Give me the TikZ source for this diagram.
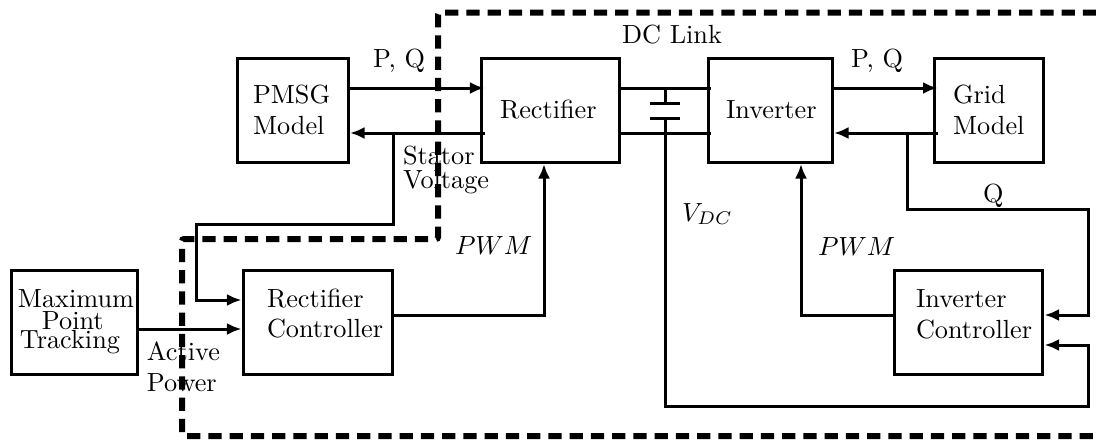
\documentclass[tikz,border=0pt]{standalone}
\usetikzlibrary{arrows.meta}
\tikzset{
  box/.style={draw=black,line width=1.2pt,fill=none,inner sep=0pt,outer sep=0pt,minimum height=41.2pt},
  wire/.style={draw=black,line width=1.2pt,line join=miter},
  arr/.style={wire,-{Latex[length=5.8pt,width=4.8pt]}},
  zone/.style={draw=black,line width=2.4pt,dash pattern=on 5.3pt off 3.2pt,rounded corners=0.8pt},
  txt/.style={anchor=base west,inner sep=0pt,outer sep=0pt,text=black,scale=1.05}
}
\begin{document}
\begin{tikzpicture}[x=0.4pt,y=-0.4pt]
\useasboundingbox (0,0) rectangle (1096,440);
% boxes
\node[box,minimum width=44pt]   (pmsg) at (293,110.5) {};
\node[box,minimum width=55.2pt] (rect) at (550,110.5) {};
\node[box,minimum width=49.6pt] (inv)  at (770,110.5) {};
\node[box,minimum width=43.6pt] (grid) at (988.5,110.5) {};
\node[box,minimum width=50pt]   (mpt)  at (74.5,322.5) {};
\node[box,minimum width=59.2pt] (rc)   at (318,322.5) {};
\node[box,minimum width=59.2pt] (ic)   at (968,322.5) {};
% routing levels
\coordinate (yP) at (0,88);
\coordinate (yV) at (0,133);
\coordinate (yC1) at (0,315);
\coordinate (sb1) at (393,224);
\coordinate (sb2) at (196,224);
\coordinate (qb1) at (907,209);
\coordinate (qb2) at (1088,209);
\coordinate (dcb1) at (665,406);
\coordinate (dcb2) at (1088,406);
\coordinate (capT) at (665,103);
\coordinate (capB) at (665,118);
% dashed zone
\coordinate (z1) at (1096,12.5);
\coordinate (z2) at (438,12.5);
\coordinate (z3) at (438,239);
\coordinate (z4) at (182,239);
\coordinate (z5) at (182,436);
\coordinate (z6) at (1096,436);
\draw[zone] (z1) -- (z2) -- (z3) -- (z4) -- (z5) -- (z6);
% power connectors
\draw[arr] (pmsg.east |- yP) -- ([xshift=1.4pt]rect.west |- yP);
\draw[arr] ([xshift=1.4pt]rect.west |- yV) -- ([xshift=0.8pt]pmsg.east |- yV);
\draw[wire] (rect.east |- yP) -- ([xshift=1.2pt]inv.west |- yP);
\draw[wire] (rect.east |- yV) -- ([xshift=1.2pt]inv.west |- yV);
\draw[arr] (inv.east |- yP) -- ([xshift=1.4pt]grid.west |- yP);
\draw[arr] ([xshift=1.4pt]grid.west |- yV) -- ([xshift=0.8pt]inv.east |- yV);
% capacitor
\draw[wire] (capT |- yP) -- (capT);
\draw[wire] ([xshift=-6pt]capT) -- ([xshift=6pt]capT);
\draw[wire] ([xshift=-6pt]capB) -- ([xshift=6pt]capB);
% stator voltage feedback
\draw[arr] (sb1 |- yV) -- (sb1) -- (sb2) -- (sb2 |- 0,300) -- ([xshift=-1pt]rc.west |- 0,300);
% MPT to rectifier controller
\draw[arr] (mpt.east |- 0,329) -- ([xshift=-1pt]rc.west |- 0,329);
% PWM rectifier
\draw[arr] (rc.east |- yC1) -- (544,315) -- ([yshift=-0.8pt]544,162);
% PWM inverter
\draw[arr] (ic.west |- yC1) -- (801,315) -- ([yshift=-0.8pt]801,162);
% Q feedback
\draw[arr] (qb1 |- yV) -- (qb1) -- (qb2) -- (qb2 |- yC1) -- ([xshift=1pt]ic.east |- yC1);
% VDC feedback
\draw[arr] (capB) -- (dcb1) -- (dcb2) -- (dcb2 |- 0,345) -- ([xshift=1pt]ic.east |- 0,345);
% labels
\node[txt] (t1) at (953,103) {Grid};
\node[txt] (t2) at (953,134) {Model};
\node[txt] (t3) at (253,103) {PMSG};
\node[txt] (t4) at (253,134) {Model};
\node[txt] (t5) at (500,118) {Rectifier};
\node[txt] (t6) at (726,118) {Inverter};
\node[txt] (t7) at (18,307) {Maximum};
\node[txt] (t8) at (42,329) {Point};
\node[txt] (t9) at (20,348) {Tracking};
\node[txt] (t10) at (267,307) {Rectifier};
\node[txt] (t11) at (267,337) {Controller};
\node[txt] (t12) at (916,308) {Inverter};
\node[txt] (t13) at (916,338) {Controller};
\node[txt] (t14) at (147,360) {Active};
\node[txt] (t15) at (147,391) {Power};
\node[txt] (t16) at (403,164) {Stator};
\node[txt] (t17) at (403,188) {Voltage};
\node[txt] (t18) at (373,68) {P, Q};
\node[txt] (t19) at (851,68) {P, Q};
\node[txt] (t20) at (622,43) {DC Link};
\node[txt] (t21) at (983,203) {Q};
\node[txt] (t22) at (455,254) {$PWM$};
\node[txt] (t23) at (818,255) {$PWM$};
\node[txt] (t24) at (682,221) {$V_{DC}$};
\end{tikzpicture}
\end{document}
